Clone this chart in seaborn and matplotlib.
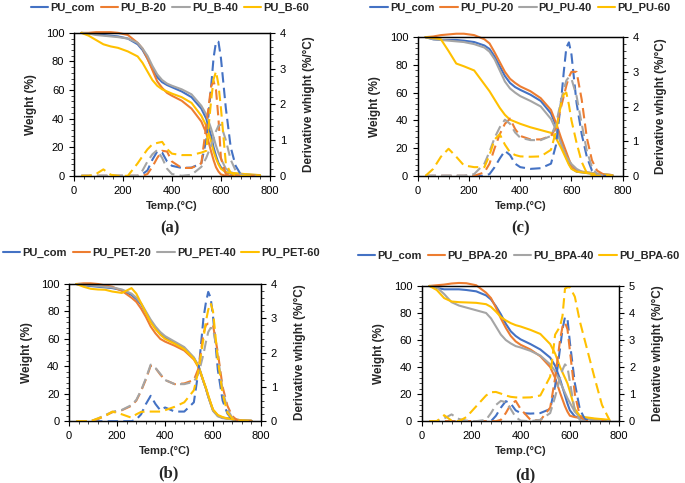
import matplotlib
matplotlib.use("Agg")
import matplotlib.pyplot as plt
import seaborn as sns
from matplotlib.ticker import MultipleLocator

sns.set_theme(style="ticks")
plt.rcParams['font.family'] = ['Liberation Sans', 'DejaVu Sans']

# temperature grid (°C) shared by all curves
temp = [30, 60, 90, 120, 150, 180, 220, 260, 280, 300, 320, 340, 360, 380, 400, 440,
        480, 520, 540, 560, 570, 580, 590, 600, 620, 640, 660, 680, 700, 730, 760]

colors = ["#4472C4", "#ED7D31", "#A5A5A5", "#FFC000"]

# ---- (a) PU_B ----
a_names = ["PU_com", "PU_B-20", "PU_B-40", "PU_B-60"]
a_wt_com = [100, 99.5, 99, 98.5, 98, 97.5, 96, 92, 88, 82, 75, 69, 65.5, 63.5, 62, 59, 55, 47, 40, 28, 20, 14, 9, 6, 2.5, 1.5, 1.2, 1, 0.8, 0.5, 0.3]
a_wt_20 = [100, 100, 100.5, 100.5, 100.5, 100, 98.5, 93, 89, 82, 74, 66, 61.5, 58, 56, 52.5, 47, 38, 30, 17, 11, 6, 3, 1, 0, 0, 0, 0, 0, 0, 0]
a_wt_40 = [100, 99.5, 98.5, 98, 97.5, 97, 96, 93, 89, 84, 77, 71, 67, 64.5, 63, 60.5, 57, 49, 43, 33, 27, 21, 16, 12, 5, 2.5, 1.5, 1.2, 1, 0.7, 0.4]
a_wt_60 = [100, 98, 95, 92, 90.5, 89.5, 87, 83.5, 79, 73, 67, 63, 60.5, 59, 57.5, 55, 51, 42, 35, 24, 17, 12, 8, 5, 2.5, 2, 1.8, 1.5, 1.2, 0.8, 0.5]
a_dw_com = [0, 0, 0, 0, 0, 0, 0, 0, 0.05, 0.15, 0.45, 0.68, 0.65, 0.4, 0.28, 0.22, 0.23, 0.35, 1.0, 2.5, 3.3, 3.75, 3.75, 3.3, 1.9, 0.8, 0.28, 0.05, 0, 0, 0]
a_dw_20 = [0, 0, 0, 0, 0, 0, 0, 0, 0, 0.05, 0.25, 0.5, 0.7, 0.68, 0.4, 0.22, 0.22, 0.35, 1.4, 2.5, 2.65, 2.4, 1.6, 0.5, 0.05, 0, 0, 0, 0, 0, 0]
a_dw_40 = [0, 0, 0, 0, 0, 0, 0, 0, 0.15, 0.4, 0.6, 0.72, 0.5, 0.2, 0.05, 0, 0.03, 0.25, 0.5, 0.85, 1.05, 1.25, 1.4, 1.43, 1.0, 0.45, 0.15, 0.05, 0, 0, 0]
a_dw_60 = [0, 0, 0.05, 0.18, 0.03, 0, 0, 0.35, 0.55, 0.74, 0.88, 0.92, 0.95, 0.75, 0.62, 0.58, 0.58, 0.65, 0.7, 2.1, 2.7, 2.92, 2.55, 1.9, 0.35, 0.08, 0.02, 0, 0, 0, 0]

# ---- (c) PU_PU ----
c_names = ["PU_com", "PU_PU-20", "PU_PU-40", "PU_PU-60"]
c_wt_com = [100, 98.5, 98, 98, 98, 97.5, 96.5, 94, 91.5, 86, 79, 72, 67, 64, 62, 58.5, 54, 45, 36, 24, 18, 13, 9, 5.5, 3, 2.5, 2, 1.5, 1.2, 0.8, 0.5]
c_wt_20 = [100, 100.5, 101.5, 102, 102.5, 102.5, 101.5, 98.5, 95.5, 89, 82, 75, 70, 67, 64.5, 61, 56, 47.5, 38, 27, 22, 17, 12, 7.5, 4, 3, 2.5, 2, 1.5, 1, 0.5]
c_wt_40 = [100, 98.5, 98, 97.5, 97, 96.5, 95, 92.5, 89.5, 84, 76, 68, 63, 60, 57.5, 54, 50, 41, 33, 23, 18, 14, 11, 8.5, 5, 3, 2.5, 2, 1.5, 1, 0.5]
c_wt_60 = [100, 99.5, 98.5, 90, 81, 79, 76, 66, 61, 55, 49, 44, 40.5, 39, 37.5, 35, 33, 31, 27, 20, 16, 12, 8, 5, 3, 2.5, 2, 1.5, 1.2, 0.8, 0.5]
c_dw_com = [0, 0, 0, 0, 0, 0, 0, 0, 0.05, 0.25, 0.5, 0.72, 0.6, 0.35, 0.25, 0.2, 0.22, 0.35, 0.9, 2.2, 3.0, 3.7, 3.85, 3.5, 2.1, 1.2, 0.55, 0.15, 0.03, 0, 0]
c_dw_20 = [0, 0, 0, 0, 0, 0, 0, 0.1, 0.35, 0.8, 1.2, 1.5, 1.65, 1.35, 1.15, 1.05, 1.05, 1.15, 1.4, 2.0, 2.3, 2.6, 2.85, 3.0, 3.0, 2.2, 1.1, 0.45, 0.15, 0.02, 0]
c_dw_40 = [0, 0, 0, 0, 0, 0, 0.05, 0.35, 0.7, 1.1, 1.4, 1.62, 1.5, 1.25, 1.1, 1.03, 1.03, 1.15, 1.5, 2.2, 2.5, 2.75, 2.85, 2.8, 2.3, 1.5, 0.72, 0.25, 0.05, 0, 0]
c_dw_60 = [0, 0.2, 0.55, 0.78, 0.55, 0.3, 0.25, 0.25, 0.6, 1.05, 1.2, 0.9, 0.68, 0.6, 0.56, 0.55, 0.56, 0.75, 1.3, 2.1, 2.35, 2.4, 2.05, 1.6, 0.95, 0.4, 0.08, 0, 0, 0, 0]

# ---- (b) PU_PET ----
b_names = ["PU_com", "PU_PET-20", "PU_PET-40", "PU_PET-60"]
b_wt_com = [100, 99, 98.5, 98, 97.5, 97, 95.5, 92, 89, 85, 79, 73, 68, 64, 61, 57, 53, 46, 40, 29, 24, 18, 13, 8, 4, 2.5, 2, 1.5, 1, 0.5, 0.3]
b_wt_20 = [100, 100.5, 100.5, 100, 99, 98, 95, 90, 87, 82, 76, 69, 64, 60, 58, 55, 51.5, 45, 39, 29, 24, 18, 13, 8, 4, 2.5, 2, 1.5, 1, 0.5, 0.3]
b_wt_40 = [100, 99.5, 99, 98.5, 98, 97.5, 96, 93, 90, 86, 80, 74, 69, 65, 62, 58, 54, 46.5, 40, 29, 24, 18, 12.5, 7.5, 3.5, 2.2, 1.8, 1.4, 1, 0.5, 0.3]
b_wt_60 = [100, 98, 96.5, 96, 95.8, 94.5, 93.5, 97, 93, 86, 79, 72, 67, 63, 60, 56.5, 52.5, 45.5, 39.5, 29.5, 24.5, 19, 13.5, 8.5, 4.5, 3, 2, 1.5, 1, 0.5, 0.3]
b_dw_com = [0, 0, 0, 0, 0, 0, 0, 0, 0.05, 0.2, 0.5, 0.74, 0.5, 0.32, 0.4, 0.28, 0.28, 0.55, 1.5, 3.0, 3.45, 3.77, 3.6, 3.05, 1.5, 0.6, 0.22, 0.05, 0, 0, 0]
b_dw_20 = [0, 0, 0, 0.06, 0.16, 0.26, 0.32, 0.45, 0.6, 0.88, 1.22, 1.62, 1.55, 1.36, 1.2, 1.08, 1.1, 1.2, 1.55, 2.55, 2.8, 2.85, 2.85, 2.8, 2.0, 1.0, 0.45, 0.15, 0.03, 0, 0]
b_dw_40 = [0, 0, 0, 0.08, 0.18, 0.27, 0.33, 0.47, 0.62, 0.9, 1.25, 1.65, 1.55, 1.38, 1.2, 1.08, 1.08, 1.15, 1.4, 1.95, 2.3, 2.6, 2.72, 2.7, 1.9, 0.9, 0.35, 0.1, 0.02, 0, 0]
b_dw_60 = [0, 0, 0, 0.08, 0.15, 0.28, 0.2, 0.1, 0.2, 0.27, 0.28, 0.28, 0.28, 0.28, 0.32, 0.42, 0.55, 0.9, 1.5, 2.4, 2.9, 3.25, 3.44, 3.2, 1.8, 0.8, 0.25, 0.08, 0.02, 0, 0]

# ---- (d) PU_BPA ----
d_names = ["PU_com", "PU_BPA-20", "PU_BPA-40", "PU_BPA-60"]
d_wt_com = [100, 98.5, 97.5, 97.5, 97.5, 97, 96, 93, 90, 85, 79, 72, 66.5, 63, 60.5, 57, 53, 47, 41, 31, 25, 19, 13, 8, 3.5, 2.5, 2, 1.5, 1.2, 0.8, 0.5]
d_wt_20 = [100, 100.5, 101, 101.8, 102.2, 102, 100.5, 95, 91, 84, 76, 69, 63, 59, 56.5, 53, 48, 40, 32, 21, 16, 11, 7, 4, 3, 2.5, 2.2, 2, 1.5, 1, 0.5]
d_wt_40 = [100, 99, 94, 88, 85.5, 84, 82, 80, 76, 70, 64, 60, 57.5, 55.5, 54.5, 52, 48.5, 42, 37, 29, 25, 21, 17, 13.5, 7, 3, 2, 1.5, 1, 0.7, 0.4]
d_wt_60 = [100, 97, 91, 88.5, 88, 87.8, 87.5, 86.5, 84.5, 81, 77, 74.5, 72.5, 71, 70, 67.5, 64.5, 57, 50, 40, 36, 32, 28, 22, 9, 4, 3, 2.5, 2, 1.5, 1]
d_dw_com = [0, 0, 0, 0, 0, 0, 0, 0, 0, 0.2, 0.5, 0.74, 0.65, 0.4, 0.3, 0.28, 0.3, 0.45, 1.3, 2.7, 3.4, 3.85, 3.8, 2.9, 1.4, 0.45, 0.08, 0, 0, 0, 0]
d_dw_20 = [0, 0, 0, 0, 0, 0, 0, 0, 0, 0, 0.05, 0.3, 0.62, 0.75, 0.45, 0.05, 0.03, 0.5, 1.6, 3.0, 3.5, 3.65, 3.4, 2.6, 1.0, 0.2, 0, 0, 0, 0, 0]
d_dw_40 = [0, 0, 0.1, 0.25, 0.08, 0.02, 0, 0.05, 0.3, 0.6, 0.75, 0.7, 0.45, 0.15, 0.02, 0, 0.05, 0.3, 0.9, 1.6, 1.9, 2.1, 2.0, 1.45, 0.35, 0.05, 0, 0, 0, 0, 0]
d_dw_60 = [0, 0, 0.22, 0.02, 0, 0.15, 0.55, 0.95, 1.07, 1.08, 1.02, 0.95, 0.9, 0.88, 0.87, 0.88, 0.95, 1.65, 3.2, 3.5, 3.9, 4.9, 4.95, 4.95, 4.6, 3.7, 3.0, 2.3, 1.6, 0.6, 0.05]

fig = plt.figure(figsize=(6.85, 4.83), dpi=100)

bold = {"weight": "bold", "size": 8}


def panel(rect, names, wts, dws, dmax, tag, tag_xy, leg_x, leg_y, rpad):
    ax = fig.add_axes(rect)
    ax2 = ax.twinx()
    for name, w, d, c in zip(names, wts, dws, colors):
        sns.lineplot(x=temp, y=w, ax=ax, color=c, lw=1.5, label=name, clip_on=False)
        sns.lineplot(x=temp, y=d, ax=ax2, color=c, lw=1.5, linestyle=(0, (5, 2.5)), legend=False)
    ax.set_xlim(0, 800)
    ax.set_ylim(0, 100)
    ax2.set_ylim(0, dmax)
    ax.xaxis.set_major_locator(MultipleLocator(200))
    ax.xaxis.set_minor_locator(MultipleLocator(40))
    ax.yaxis.set_major_locator(MultipleLocator(20))
    ax.yaxis.set_minor_locator(MultipleLocator(4))
    ax2.yaxis.set_major_locator(MultipleLocator(1))
    ax2.yaxis.set_minor_locator(MultipleLocator(0.2))
    for a in (ax, ax2):
        a.tick_params(which="major", length=3.5, width=0.8, labelsize=8, colors="black")
        a.tick_params(which="minor", length=2, width=0.6)
        for s in a.spines.values():
            s.set_color("black")
            s.set_linewidth(0.9)
    ax.set_xlabel("Temp.(°C)", fontsize=8, fontweight="bold")
    ax.set_ylabel("Weight (%)", fontsize=8.5, fontweight="bold", labelpad=6)
    ax2.set_ylabel("Derivative whight (%/°C)", fontsize=8.5, fontweight="bold", labelpad=rpad)
    ax.legend(loc="center", bbox_to_anchor=(leg_x, leg_y), ncol=4, frameon=False,
              prop=bold, handlelength=1.6, handletextpad=0.2, columnspacing=0.5,
              borderaxespad=0)
    fig.text(tag_xy[0], tag_xy[1], tag, ha="center", va="center",
             fontfamily="Liberation Serif", fontweight="bold", fontsize=12)


panel([0.108, 0.636, 0.286, 0.296], a_names,
      [a_wt_com, a_wt_20, a_wt_40, a_wt_60], [a_dw_com, a_dw_20, a_dw_40, a_dw_60],
      4, "(a)", (170 / 685, 1 - 228 / 483), 0.49, 1.175, 12)
panel([0.610, 0.636, 0.299, 0.287], c_names,
      [c_wt_com, c_wt_20, c_wt_40, c_wt_60], [c_dw_com, c_dw_20, c_dw_40, c_dw_60],
      4, "(c)", (521 / 685, 1 - 228 / 483), 0.5, 1.21, 12)
panel([0.101, 0.128, 0.280, 0.284], b_names,
      [b_wt_com, b_wt_20, b_wt_40, b_wt_60], [b_dw_com, b_dw_20, b_dw_40, b_dw_60],
      4, "(b)", (168 / 685, 1 - 473 / 483), 0.48, 1.226, 12)
panel([0.616, 0.128, 0.288, 0.280], d_names,
      [d_wt_com, d_wt_20, d_wt_40, d_wt_60], [d_dw_com, d_dw_20, d_dw_40, d_dw_60],
      5, "(d)", (525 / 685, 1 - 475 / 483), 0.49, 1.22, 12)

fig.savefig("out.png", dpi=100)
